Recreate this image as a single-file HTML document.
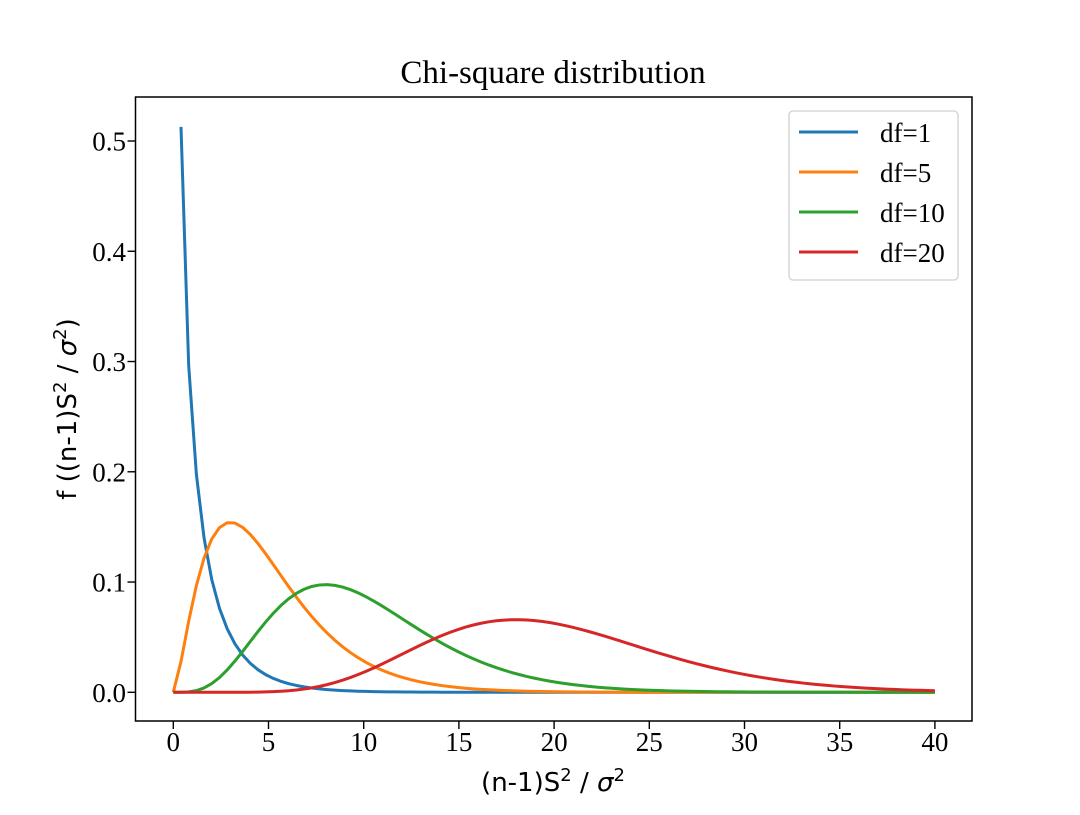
<!DOCTYPE html>
<html><head><meta charset="utf-8"><style>
html,body{margin:0;padding:0;background:#fff;}
svg text{font-family:"Liberation Serif",serif;}
</style></head><body>
<svg id="s" width="1080" height="810" viewBox="0 0 1080 810" xmlns="http://www.w3.org/2000/svg">
<rect width="1080" height="810" fill="#fff"/>
<text x="553" y="83" font-size="33" text-anchor="middle">Chi-square distribution</text>
<g id="curves" fill="none" stroke-width="3" stroke-linejoin="round"></g>
<rect x="135.5" y="97" width="836.5" height="624" fill="none" stroke="#000" stroke-width="1.5"/>
<g id="ticks" stroke="#000" stroke-width="1.4"></g>
<g id="labels" font-size="27"></g>
<text x="553" y="791" font-size="26" text-anchor="middle" style="font-family:'DejaVu Sans',sans-serif">(n-1)S<tspan dy="-10" font-size="18">2</tspan><tspan dy="10"> / </tspan><tspan font-style="italic">σ</tspan><tspan dy="-10" font-size="18">2</tspan></text>
<text transform="translate(76,409) rotate(-90)" font-size="26" text-anchor="middle" style="font-family:'DejaVu Sans',sans-serif">f ((n-1)S<tspan dy="-10" font-size="18">2</tspan><tspan dy="10"> / </tspan><tspan font-style="italic">σ</tspan><tspan dy="-10" font-size="18">2</tspan><tspan dy="10">)</tspan></text>
<rect x="789" y="111" width="169" height="169" rx="4" fill="#fff" fill-opacity="0.8" stroke="#d0d0d0" stroke-width="1.3"/>
<g stroke-width="3">
<line x1="799" y1="132" x2="858" y2="132" stroke="#1f77b4"/>
<line x1="799" y1="172" x2="858" y2="172" stroke="#ff7f0e"/>
<line x1="799" y1="212" x2="858" y2="212" stroke="#2ca02c"/>
<line x1="799" y1="252" x2="858" y2="252" stroke="#d62728"/>
</g>
<g font-size="27">
<text x="880" y="142">df=1</text>
<text x="880" y="182">df=5</text>
<text x="880" y="222">df=10</text>
<text x="880" y="262">df=20</text>
</g>
</svg>
<script>
var NS="http://www.w3.org/2000/svg";
function X(v){return 173.3+v*19.04;}
function Y(v){return 692.3-v*1102.6;}
function lgamma(z){var g=7,c=[0.99999999999980993,676.5203681218851,-1259.1392167224028,771.32342877765313,-176.61502916214059,12.507343278686905,-0.13857109526572012,9.9843695780195716e-6,1.5056327351493116e-7];
if(z<0.5)return Math.log(Math.PI/Math.sin(Math.PI*z))-lgamma(1-z);z-=1;var x=c[0];for(var i=1;i<g+2;i++)x+=c[i]/(z+i);var t=z+g+0.5;return 0.5*Math.log(2*Math.PI)+(z+0.5)*Math.log(t)-t+Math.log(x);}
function pdf(x,k){if(x<=0)return k==1?Infinity:(k==2?0.5:0);return Math.exp((k/2-1)*Math.log(x)-x/2-(k/2)*Math.log(2)-lgamma(k/2));}
var cols={1:"#1f77b4",5:"#ff7f0e",10:"#2ca02c",20:"#d62728"};
var g=document.getElementById("curves");
[1,5,10,20].forEach(function(k){var d="";for(var i=0;i<100;i++){var x=40*i/99,y=pdf(x,k);if(!isFinite(y))continue;d+=(d?"L":"M")+X(x).toFixed(2)+","+Y(y).toFixed(2);}
var p=document.createElementNS(NS,"path");p.setAttribute("d",d);p.setAttribute("stroke",cols[k]);g.appendChild(p);});
var t=document.getElementById("ticks"),l=document.getElementById("labels");
function ln(a,b,c,d){var e=document.createElementNS(NS,"line");e.setAttribute("x1",a);e.setAttribute("y1",b);e.setAttribute("x2",c);e.setAttribute("y2",d);t.appendChild(e);}
function tx(x,y,s,a){var e=document.createElementNS(NS,"text");e.setAttribute("x",x);e.setAttribute("y",y);e.setAttribute("text-anchor",a);e.textContent=s;l.appendChild(e);}
for(var v=0;v<=40;v+=5){ln(X(v),721,X(v),729);tx(X(v),751,String(v),"middle");}
for(var j=0;j<=5;j++){var y=Y(j/10);ln(127.5,y,135.5,y);tx(126,y+9.5,(j/10).toFixed(1),"end");}
</script>
</body></html>
